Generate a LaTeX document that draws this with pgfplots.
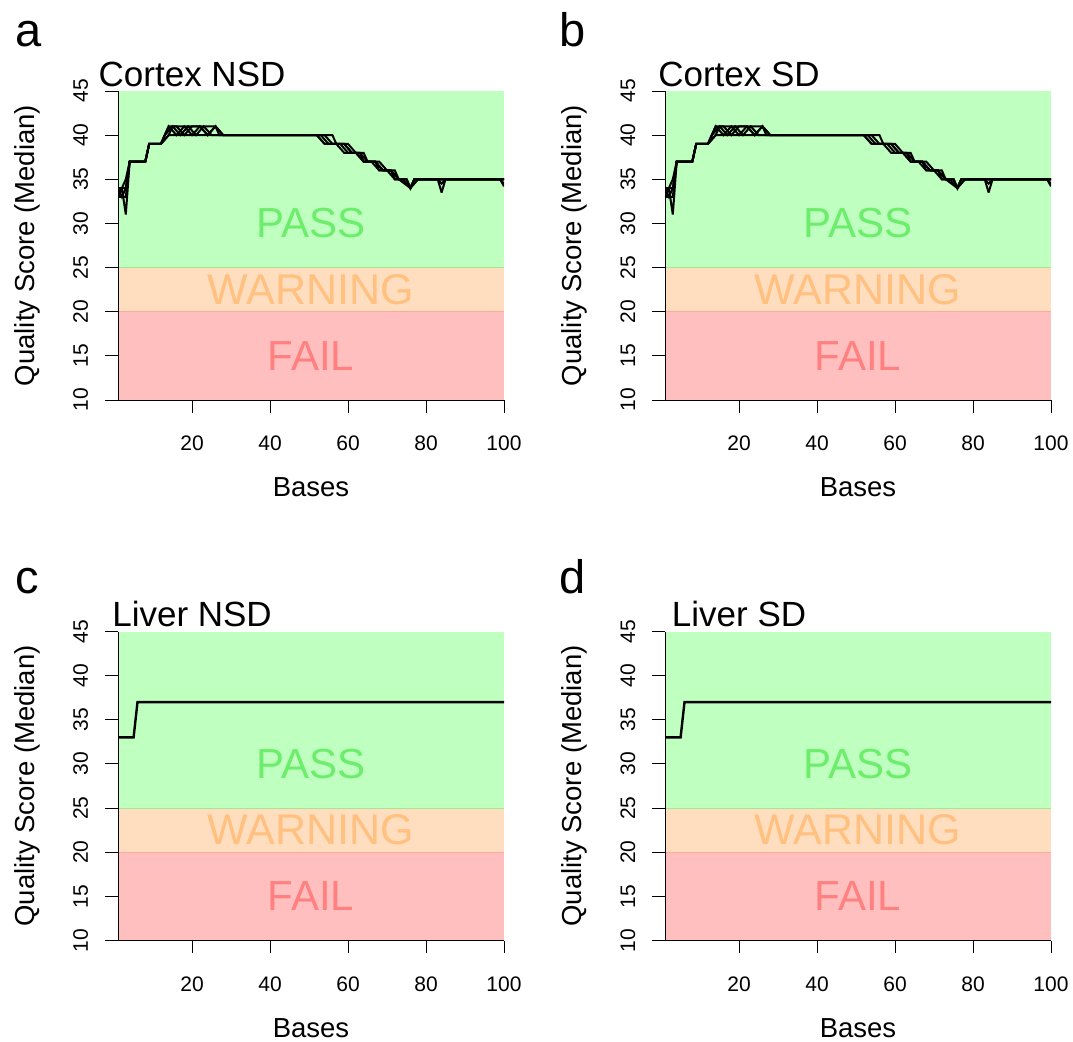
\documentclass[border=0pt]{standalone}
\usepackage{fontspec}
\setmainfont{Liberation Sans}
\usepackage{pgfplots}
\usepackage{pgfplotstable}
\pgfplotsset{compat=1.18}

\definecolor{passbg}{RGB}{191,255,191}
\definecolor{passfg}{RGB}{108,238,108}
\definecolor{passln}{RGB}{165,230,145}
\definecolor{warnbg}{RGB}{255,222,191}
\definecolor{warnfg}{RGB}{255,192,128}
\definecolor{warnln}{RGB}{255,170,150}
\definecolor{failbg}{RGB}{255,191,191}
\definecolor{failfg}{RGB}{255,128,128}

% cortex samples (median quality per base)
\pgfplotstableread[row sep=\\]{x y\\ 1 34\\ 2 34\\ 3 35\\ 4 37\\ 8 37\\ 9 39\\ 12 39\\ 14 41\\ 16 40\\ 18 41\\ 20 40\\ 22 41\\ 24 40\\ 26 41\\ 28 40\\ 52 40\\ 54 39\\ 58 39\\ 60 38\\ 62 38\\ 64 37\\ 66 37\\ 68 36\\ 70 36\\ 72 35\\ 74 35\\ 76 34\\ 78 35\\ 99 35\\ 100 34.5\\}\cA
\pgfplotstableread[row sep=\\]{x y\\ 1 33\\ 2 34\\ 3 31\\ 4 37\\ 8 37\\ 9 39\\ 12 39\\ 13 40\\ 15 41\\ 17 40\\ 19 41\\ 21 40\\ 23 41\\ 25 40\\ 54 40\\ 56 39\\ 60 39\\ 62 38\\ 63 38\\ 65 37\\ 67 37\\ 69 36\\ 71 36\\ 73 35\\ 75 35\\ 76 34\\ 77 35\\ 83 35\\ 84 34.5\\ 85 35\\ 100 35\\}\cB
\pgfplotstableread[row sep=\\]{x y\\ 1 34\\ 2 33\\ 3 34\\ 4 37\\ 8 37\\ 9 39\\ 12 39\\ 13 40\\ 14 41\\ 26 41\\ 28 40\\ 56 40\\ 57 39\\ 59 39\\ 61 38\\ 64 38\\ 65 37\\ 68 37\\ 70 36\\ 72 36\\ 73 35\\ 75 35\\ 76 34\\ 77 35\\ 83 35\\ 84 33.5\\ 85 35\\ 100 35\\}\cC
\pgfplotstableread[row sep=\\]{x y\\ 1 33\\ 2 33\\ 3 33\\ 4 37\\ 8 37\\ 9 39\\ 12 39\\ 14 40\\ 15 41\\ 16 41\\ 18 40\\ 20 41\\ 22 41\\ 24 40\\ 26 41\\ 27 40\\ 53 40\\ 55 39\\ 59 39\\ 61 38\\ 62 38\\ 64 37\\ 67 37\\ 69 36\\ 71 36\\ 73 35\\ 76 34\\ 77 35\\ 99 35\\ 100 34.2\\}\cD
\pgfplotstableread[row sep=\\]{x y\\ 1 33\\ 2 34\\ 3 34\\ 4 37\\ 8 37\\ 9 39\\ 12 39\\ 14 40\\ 52 40\\ 54 39\\ 57 39\\ 59 38\\ 63 38\\ 64 37\\ 67 37\\ 68 36\\ 71 36\\ 72 35\\ 75 35\\ 76 34\\ 77 35\\ 100 35\\}\cE
% liver samples
\pgfplotstableread[row sep=\\]{x y\\ 1 33\\ 5 33\\ 6 37\\ 100 37\\}\lv

\pgfplotsset{
  qcpanel/.style={
    scale only axis, width=386bp, height=309bp,
    xmin=1, xmax=100, ymin=10, ymax=45,
    xtick={20,40,60,80,100}, ytick={10,15,...,45},
    axis lines=left, axis line style={-, line width=0.9bp},
    axis on top,
    tick align=outside, major tick length=13bp,
    tick style={black, line width=0.9bp},
    /pgf/number format/assume math mode=true,
    ticklabel style={font=\fontsize{21bp}{21bp}\selectfont},
    xticklabel style={anchor=base, yshift=-38bp},
    yticklabel style={rotate=90, anchor=base, yshift=17bp},
    xlabel={Bases}, ylabel={Quality Score (Median)},
    label style={font=\fontsize{27.5bp}{28bp}\selectfont, inner sep=0pt},
    xlabel style={at={(axis description cs:0.5,-0.313)}, anchor=base},
    ylabel style={at={(axis description cs:-0.2176,0.5)}, anchor=base},
    title style={at={(axis description cs:0.1919,1)}, anchor=base, yshift=-1bp,
      inner sep=0pt, font=\fontsize{35bp}{35bp}\selectfont},
  },
  cortex/.style={black, line width=2bp, line join=miter, miter limit=3},
}
\newcommand{\qcbands}{%
  \addplot[fill=passbg, draw=none] coordinates {(1,25) (100,25) (100,45) (1,45)} -- cycle;
  \addplot[fill=warnbg, draw=none] coordinates {(1,20) (100,20) (100,25) (1,25)} -- cycle;
  \addplot[fill=failbg, draw=none] coordinates {(1,10) (100,10) (100,20) (1,20)} -- cycle;
  \addplot[passln, line width=1bp] coordinates {(1,25) (100,25)};
  \addplot[warnln, line width=1bp] coordinates {(1,20) (100,20)};
  \node[passfg, font=\fontsize{42bp}{42bp}\selectfont] at (axis cs:50.5,30) {PASS};
  \node[warnfg, font=\fontsize{43bp}{43bp}\selectfont] at (axis cs:50.5,22.5) {WARNING};
  \node[failfg, font=\fontsize{42bp}{42bp}\selectfont] at (axis cs:50.5,15) {FAIL};
}
\newcommand{\cortexlines}{%
  \addplot[cortex] table {\cA};
  \addplot[cortex] table {\cB};
  \addplot[cortex] table {\cC};
  \addplot[cortex] table {\cD};
  \addplot[cortex] table {\cE};
}

\begin{document}
\begin{tikzpicture}
\path[use as bounding box] (0,0) rectangle (1073bp,1042bp);

\begin{axis}[qcpanel, at={(118bp,642bp)}, anchor=south west, title={Cortex NSD}]
\qcbands
\cortexlines
\end{axis}

\begin{axis}[qcpanel, at={(665bp,642bp)}, anchor=south west, title={Cortex SD}]
\qcbands
\cortexlines
\end{axis}

\begin{axis}[qcpanel, at={(118bp,101.5bp)}, anchor=south west, title={Liver NSD}]
\qcbands
\addplot[black, line width=2.4bp] table {\lv};
\end{axis}

\begin{axis}[qcpanel, at={(665bp,101.5bp)}, anchor=south west, title={Liver SD}]
\qcbands
\addplot[black, line width=2.4bp] table {\lv};
\end{axis}

\begin{scope}[every node/.style={anchor=base west, inner sep=0pt, font=\fontsize{47bp}{47bp}\selectfont}]
\node at (15bp,995.3bp) {a};
\node at (559bp,995.3bp) {b};
\node at (15bp,448.7bp) {c};
\node at (559bp,448.7bp) {d};
\end{scope}
\end{tikzpicture}
\end{document}
